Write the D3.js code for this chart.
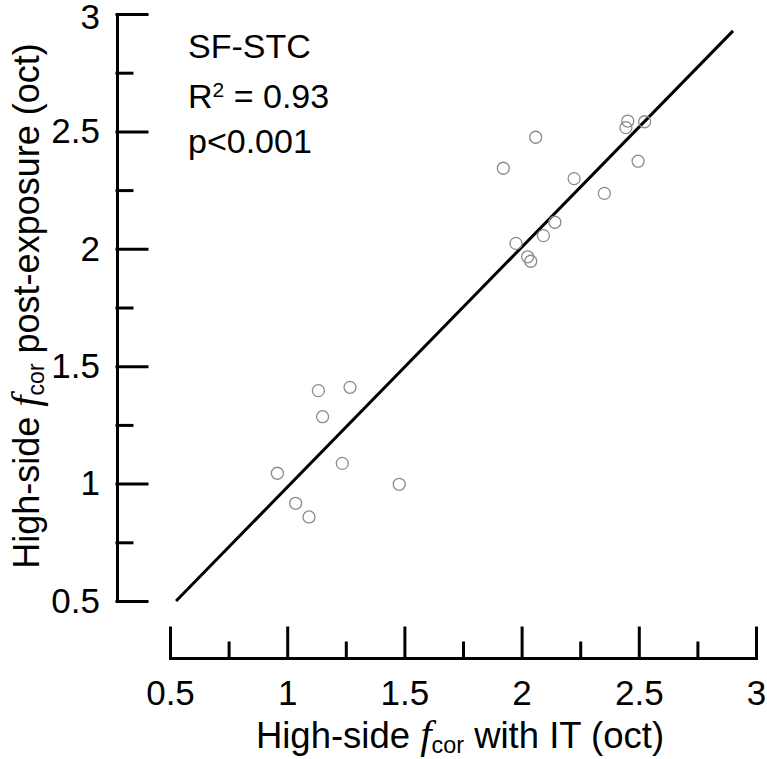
<!DOCTYPE html>
<html>
<head>
<meta charset="utf-8">
<script src="https://cdn.jsdelivr.net/npm/d3@7"></script>
<style>
  html, body { margin: 0; padding: 0; background: #fff; }
  svg { display: block; font-family: "Liberation Sans", Arial, sans-serif; }
</style>
</head>
<body>
<svg id="chart" width="767" height="759"></svg>
<script>
// ---- data ----
const xValues = [1.133, 1.268, 1.151, 1.235, 0.958, 1.478, 1.036, 1.093,
                 2.060, 1.922, 2.224, 2.497, 2.353, 2.142, 2.093, 1.976, 2.026, 2.039,
                 2.453, 2.445, 2.525];
const yValues = [1.396, 1.410, 1.285, 1.086, 1.044, 0.997, 0.916, 0.858,
                 2.475, 2.343, 2.299, 2.373, 2.236, 2.113, 2.056, 2.023, 1.966, 1.947,
                 2.544, 2.516, 2.541];
const fitX = [0.526, 2.902];
const fitY = [0.5, 2.928];
const majorTicks = [0.5, 1, 1.5, 2, 2.5, 3];
const minorTicks = [0.75, 1.25, 1.75, 2.25, 2.75];
const annotation = { name: "SF-STC", r2: "0.93", p: "p<0.001" };

// ---- layout ----
const svg = d3.select("#chart");
const x = d3.scaleLinear().domain([0.5, 3]).range([170, 756]);
const y = d3.scaleLinear().domain([0.5, 3]).range([601, 14]);
const axisColor = "#000";

// Y axis
const yAxisG = svg.append("g").attr("transform", "translate(117,0)");
yAxisG.call(d3.axisLeft(y).tickValues(majorTicks).tickSize(-30).tickSizeOuter(0)
  .tickPadding(17).tickFormat(d => String(d)));
const yMinor = svg.append("g").attr("transform", "translate(117,0)");
yMinor.call(d3.axisLeft(y).tickValues(minorTicks).tickSize(-15).tickSizeOuter(0).tickFormat(""));
yMinor.select(".domain").remove();

// X axis
const xAxisG = svg.append("g").attr("transform", "translate(0,658)");
xAxisG.call(d3.axisBottom(x).tickValues(majorTicks).tickSize(-30).tickSizeOuter(0)
  .tickPadding(22).tickFormat(d => String(d)));
const xMinor = svg.append("g").attr("transform", "translate(0,658)");
xMinor.call(d3.axisBottom(x).tickValues(minorTicks).tickSize(-15).tickSizeOuter(0).tickFormat(""));
xMinor.select(".domain").remove();

svg.selectAll(".domain, .tick line")
  .attr("stroke", axisColor).attr("stroke-width", 3).attr("stroke-linecap", "square");
svg.selectAll(".tick text")
  .attr("fill", "#000")
  .attr("font-size", 35)
  .attr("font-family", "Liberation Sans, Arial, sans-serif");
// keep the top label inside the picture
yAxisG.selectAll(".tick text").filter(d => d === 3).attr("dy", "0.4em");

// Regression line
svg.append("line")
  .attr("x1", x(fitX[0])).attr("y1", y(fitY[0]))
  .attr("x2", x(fitX[1])).attr("y2", y(fitY[1]))
  .attr("stroke", "#000").attr("stroke-width", 3);

// Points
svg.append("g").selectAll("circle")
  .data(xValues.map((v, i) => [v, yValues[i]]))
  .join("circle")
  .attr("cx", d => x(d[0])).attr("cy", d => y(d[1]))
  .attr("r", 6)
  .attr("fill", "none")
  .attr("stroke", "#8c8c8c")
  .attr("stroke-width", 1.3);

// Annotation
const ann = svg.append("g").attr("font-size", 34).attr("fill", "#000");
ann.append("text").attr("x", 188).attr("y", 58).text(annotation.name);
const r2t = ann.append("text").attr("x", 188).attr("y", 108);
r2t.append("tspan").text("R");
r2t.append("tspan").attr("font-size", 21).attr("dy", -11).text("2");
r2t.append("tspan").attr("dy", 11).text(" = " + annotation.r2);
ann.append("text").attr("x", 188).attr("y", 153).text(annotation.p);

// Axis titles
function titleParts(t, before, after, fs) {
  t.append("tspan").text(before);
  t.append("tspan").attr("font-family", "Liberation Serif, Times New Roman, serif")
    .attr("font-style", "italic").attr("font-size", fs * 1.12).text("f");
  t.append("tspan").attr("font-size", fs * 0.64).attr("dy", 5).text("cor");
  t.append("tspan").attr("dy", -5).text(after);
}
const xt = svg.append("text")
  .attr("x", 460).attr("y", 748)
  .attr("text-anchor", "middle").attr("font-size", 36.5).attr("fill", "#000");
titleParts(xt, "High-side ", " with IT (oct)", 36.5);

const yt = svg.append("text")
  .attr("transform", "translate(39,306) rotate(-90)")
  .attr("text-anchor", "middle").attr("font-size", 36).attr("fill", "#000");
titleParts(yt, "High-side ", " post-exposure (oct)", 36);
</script>
</body>
</html>
